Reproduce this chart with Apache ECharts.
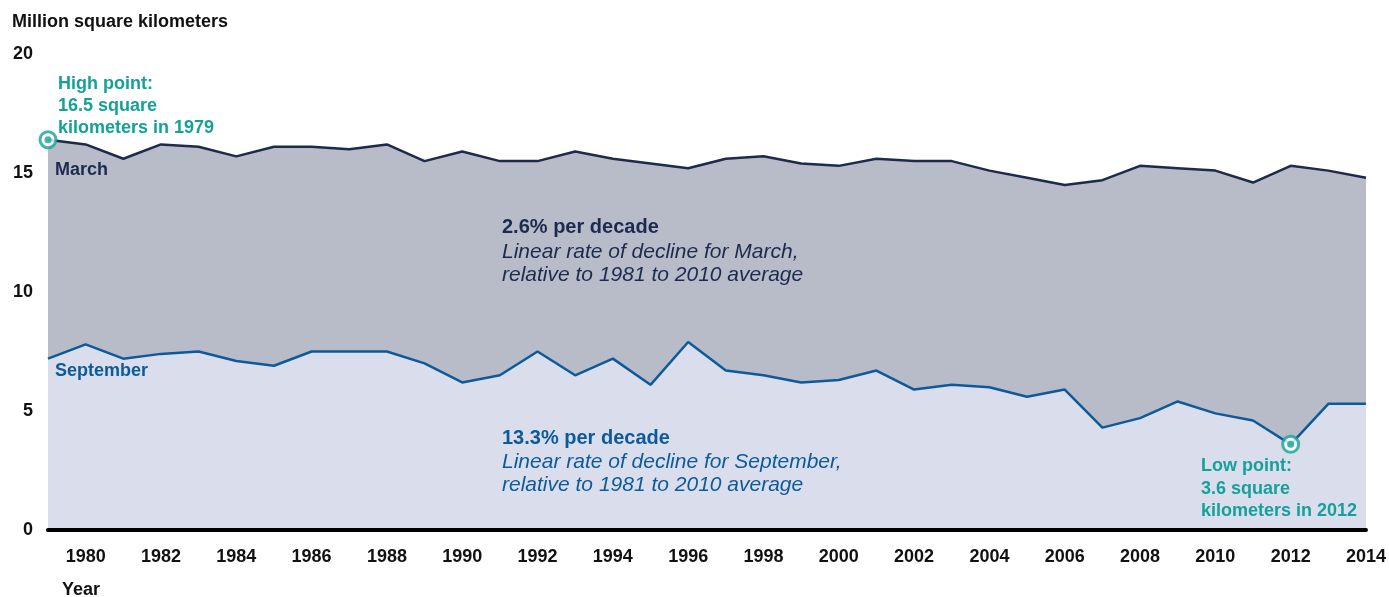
<!DOCTYPE html>
<html>
<head>
<meta charset="utf-8">
<script src="https://cdn.jsdelivr.net/npm/echarts@6/dist/echarts.min.js"></script>
<style>
html,body{margin:0;padding:0;background:#fff;}
#chart{width:1389px;height:597px;}
</style>
</head>
<body>
<div id="chart"></div>
<script>
const years = [1979,1980,1981,1982,1983,1984,1985,1986,1987,1988,1989,1990,1991,1992,1993,1994,1995,1996,1997,1998,1999,2000,2001,2002,2003,2004,2005,2006,2007,2008,2009,2010,2011,2012,2013,2014];
const march = [16.4,16.2,15.6,16.2,16.1,15.7,16.1,16.1,16.0,16.2,15.5,15.9,15.5,15.5,15.9,15.6,15.4,15.2,15.6,15.7,15.4,15.3,15.6,15.5,15.5,15.1,14.8,14.5,14.7,15.3,15.2,15.1,14.6,15.3,15.1,14.8];
const september = [7.2,7.8,7.2,7.4,7.5,7.1,6.9,7.5,7.5,7.5,7.0,6.2,6.5,7.5,6.5,7.2,6.1,7.9,6.7,6.5,6.2,6.3,6.7,5.9,6.1,6.0,5.6,5.9,4.3,4.7,5.4,4.9,4.6,3.6,5.3,5.3];
const yTicks = [0,5,10,15,20];
const highPoint = {year:'1979', value:16.4};
const lowPoint = {year:'2012', value:3.6};

const NAVY = '#1c2a4e', BLUE = '#0d5a9b', TEAL = '#15a19a';
const FONT = '"Liberation Sans", Arial, sans-serif';

const chart = echarts.init(document.getElementById('chart'), null, {renderer:'canvas'});
const markers = [[highPoint.year, highPoint.value],[lowPoint.year, lowPoint.value]];

function txt(x, y, text, font, fill){
  return {type:'text', x:x, y:y, z:100, zlevel:0,
    style:{text:text, font:font, fill:fill, verticalAlign:'middle', align:'left'}};
}
const B18 = 'bold 18px '+FONT, B20 = 'bold 20px '+FONT, I21 = 'italic 21px '+FONT;

chart.setOption({
  animation:false,
  grid:{left:48, right:23, top:54, bottom:67},
  xAxis:{
    type:'category', data:years.map(String), boundaryGap:false,
    axisLine:{show:true, lineStyle:{color:'#000', width:4}},
    axisTick:{show:false},
    axisLabel:{
      interval:function(i, v){return (+v)%2===0;},
      color:'#111', fontFamily:FONT, fontWeight:'bold', fontSize:18, margin:18
    },
    splitLine:{show:false}, z:10
  },
  yAxis:{
    type:'value', min:0, max:20, interval:5,
    axisLine:{show:false}, axisTick:{show:false}, splitLine:{show:false},
    axisLabel:{color:'#111', fontFamily:FONT, fontWeight:'bold', fontSize:18, margin:15}
  },
  series:[
    {name:'March', type:'line', data:march, symbol:'none',
      lineStyle:{color:NAVY, width:2.5}, areaStyle:{color:'#b8bcc8', opacity:1}, z:2},
    {name:'September', type:'line', data:september, symbol:'none',
      lineStyle:{color:BLUE, width:2.5}, areaStyle:{color:'#dadeec', opacity:1}, z:3},
    {type:'scatter', data:markers, symbol:'circle', symbolSize:16,
      itemStyle:{color:'#fff', borderColor:TEAL, borderWidth:3}, z:5},
    {type:'scatter', data:markers, symbol:'circle', symbolSize:7,
      itemStyle:{color:TEAL}, z:6}
  ],
  graphic:{elements:[
    txt(12, 22, 'Million square kilometers', B18, '#111'),
    txt(62, 590, 'Year', B18, '#111'),
    txt(58, 84, 'High point:', B18, TEAL),
    txt(58, 106, '16.5 square', B18, TEAL),
    txt(58, 128, 'kilometers in 1979', B18, TEAL),
    txt(55, 170, 'March', B18, NAVY),
    txt(55, 371, 'September', B18, BLUE),
    txt(502, 227, '2.6% per decade', B20, NAVY),
    txt(502, 252, 'Linear rate of decline for March,', I21, NAVY),
    txt(502, 275, 'relative to 1981 to 2010 average', I21, NAVY),
    txt(502, 438, '13.3% per decade', B20, BLUE),
    txt(502, 462, 'Linear rate of decline for September,', I21, BLUE),
    txt(502, 485, 'relative to 1981 to 2010 average', I21, BLUE),
    txt(1201, 466, 'Low point:', B18, TEAL),
    txt(1201, 489, '3.6 square', B18, TEAL),
    txt(1201, 511, 'kilometers in 2012', B18, TEAL)
  ]}
});
</script>
</body>
</html>
